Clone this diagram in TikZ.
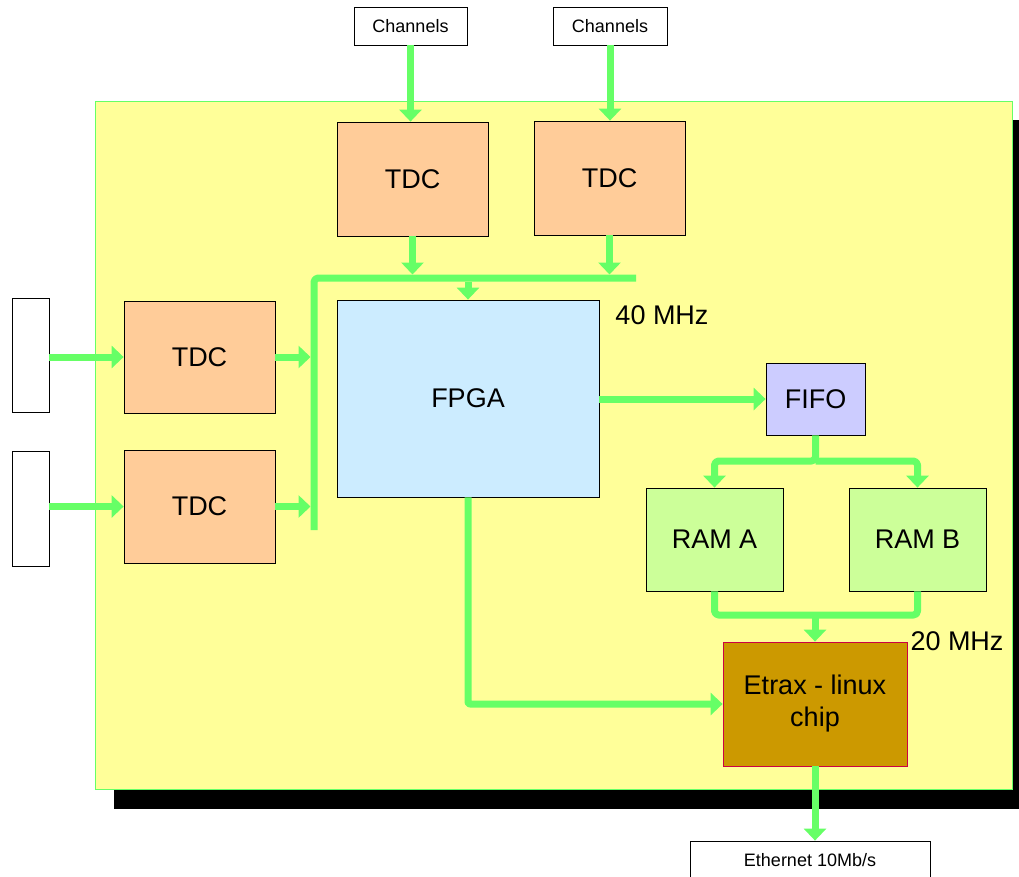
\documentclass[tikz,border=0pt]{standalone}
\usepackage{fontspec}
\setmainfont{Liberation Sans}
\usetikzlibrary{arrows.meta}
\definecolor{gline}{HTML}{66FF66}
\definecolor{board}{HTML}{FFFF99}
\definecolor{tdcc}{HTML}{FFCC99}
\definecolor{fpgac}{HTML}{CCECFF}
\definecolor{fifoc}{HTML}{CCCCFF}
\definecolor{ramc}{HTML}{CCFF99}
\definecolor{etraxc}{HTML}{CC9900}
\definecolor{etraxb}{HTML}{CC0044}
\tikzset{
  blk/.style={draw=black, line width=0.8pt, inner sep=0pt, align=center, font=\fontsize{27}{32}\selectfont},
  lbl/.style={draw=black, line width=0.8pt, fill=white, inner sep=0pt, font=\fontsize{18}{21}\selectfont},
  flow/.style={draw=gline, line width=7pt, line join=round, -{Triangle[width=22pt,length=12pt]}},
  busline/.style={draw=gline, line width=7pt, line join=round, rounded corners=4pt},
  freq/.style={inner sep=0pt, font=\fontsize{27}{31}\selectfont}
}
\begin{document}
\begin{tikzpicture}[x=1pt,y=-1pt]
\useasboundingbox (0,0) rectangle (1019,876);
\begin{scope}
\clip (0,0) rectangle (1019,876);
\fill[black] (114,120) rectangle (1031,809);
\end{scope}
\filldraw[fill=board, draw=gline, line width=1pt] (95,101) rectangle (1012,789);
% nodes
\node[lbl, minimum width=113pt, minimum height=38pt] (ch1) at (410.5,26) {Channels};
\node[lbl, minimum width=114pt, minimum height=38pt] (ch2) at (610,26) {Channels};
\node[blk, fill=tdcc, minimum width=151pt, minimum height=114pt] (tdc1) at (412.5,179) {TDC};
\node[blk, fill=tdcc, minimum width=151pt, minimum height=114pt] (tdc2) at (609.5,178) {TDC};
\node[blk, fill=tdcc, minimum width=151pt, minimum height=112pt] (tdc3) at (199.5,357) {TDC};
\node[blk, fill=tdcc, minimum width=151pt, minimum height=113pt] (tdc4) at (199.5,506.5) {TDC};
\node[lbl, minimum width=37pt, minimum height=114pt] (in1) at (30.5,355) {};
\node[lbl, minimum width=37pt, minimum height=115pt] (in2) at (30.5,508.5) {};
\node[blk, fill=fpgac, minimum width=262pt, minimum height=197pt] (fpga) at (468,398.5) {FPGA};
\node[blk, fill=fifoc, minimum width=99pt, minimum height=72pt] (fifo) at (815.5,399) {FIFO};
\node[blk, fill=ramc, minimum width=137pt, minimum height=103pt] (rama) at (714.5,539.5) {RAM A};
\node[blk, fill=ramc, minimum width=137pt, minimum height=103pt] (ramb) at (917.5,539.5) {RAM B};
\node[blk, draw=etraxb, fill=etraxc, minimum width=184pt, minimum height=124pt] (etrax) at (815,704) {Etrax - linux\\chip};
\node[lbl, minimum width=240pt, minimum height=38pt] (eth) at (810,860) {Ethernet 10Mb/s};
\node[freq] (f40) at (662,315) {40 MHz};
\node[freq] (f20) at (957,641) {20 MHz};
% bus coordinates
\coordinate (busB) at (314,530);
\coordinate (busC) at (314,278);
\coordinate (busR) at (636,278);
\coordinate (bustop) at (0,274.5);
\coordinate (busbot) at (0,281.5);
\coordinate (busleft) at (310.5,0);
\coordinate (split) at (0,461);
\coordinate (join) at (815,615);
% bus
\draw[busline] (busB) -- (busC) -- (busR);
% arrows
\draw[flow] (ch1.south) -- (ch1.south |- tdc1.north);
\draw[flow] (ch2.south) -- (ch2.south |- tdc2.north);
\draw[flow] (tdc1.south) -- (tdc1.south |- bustop);
\draw[flow] (tdc2.south) -- (tdc2.south |- bustop);
\draw[flow] (fpga.north |- busbot) -- (fpga.north);
\draw[flow] (in1.east |- tdc3.west) -- (tdc3.west);
\draw[flow] (in2.east |- tdc4.west) -- (tdc4.west);
\draw[flow] (tdc3.east) -- (tdc3.east -| busleft);
\draw[flow] (tdc4.east) -- (tdc4.east -| busleft);
\draw[flow] (fpga.east |- fifo.west) -- (fifo.west);
\draw[flow, rounded corners=4pt] (fifo.south) -- (fifo.south |- split) -| (rama.north);
\draw[flow, rounded corners=4pt] (fifo.south |- split) -| (ramb.north);
\draw[busline] (rama.south) |- (join) -| (ramb.south);
\draw[flow] (join) -- (etrax.north);
\draw[flow, rounded corners=2pt] (fpga.south) -- (fpga.south |- etrax.west) -- (etrax.west);
\draw[flow] (etrax.south) -- (etrax.south |- eth.north);
\end{tikzpicture}
\end{document}
